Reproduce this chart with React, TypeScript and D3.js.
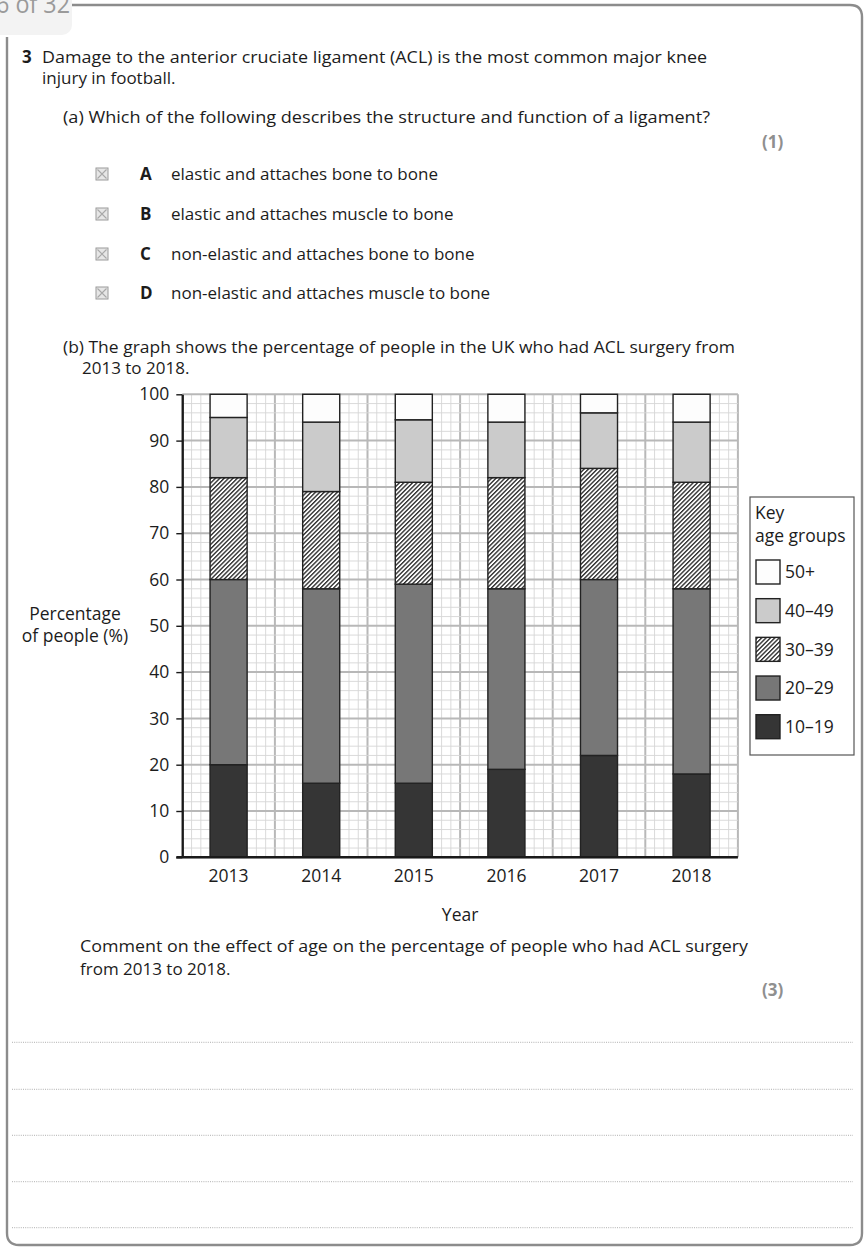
import React, { useRef, useEffect } from 'react'
import * as d3 from 'd3'

// chart data (percent of people per age group, per year)
const years = ['2013', '2014', '2015', '2016', '2017', '2018']
const ageGroups = ['10–19', '20–29', '30–39', '40–49', '50+']
const pct10to19 = [20, 16, 16, 19, 22, 18]
const pct20to29 = [40, 42, 43, 39, 38, 40]
const pct30to39 = [22, 21, 22, 24, 24, 23]
const pct40to49 = [13, 15, 13.5, 12, 12, 13]
const pct50plus = [5, 6, 5.5, 6, 4, 6]
const yTicks = [0, 10, 20, 30, 40, 50, 60, 70, 80, 90, 100]

const options = [
  { letter: 'A', text: 'elastic and attaches bone to bone' },
  { letter: 'B', text: 'elastic and attaches muscle to bone' },
  { letter: 'C', text: 'non-elastic and attaches bone to bone' },
  { letter: 'D', text: 'non-elastic and attaches muscle to bone' }
]

const FONT = '"Open Sans", "Noto Sans", sans-serif'
const TEXT = '#1c1c1c'
const FS = 17

const fills: Record<string, string> = {
  '10–19': '#353535',
  '20–29': '#777777',
  '30–39': 'url(#hatch)',
  '40–49': '#cbcbcb',
  '50+': '#fdfdfd'
}

const Chart = () => {
  const gRef = useRef<SVGGElement>(null)

  useEffect(() => {
    if (!gRef.current) return
    const g = d3.select(gRef.current)
    g.selectAll('*').remove()

    const left = 182.3
    const right = 737.9
    const top = 394.3
    const bottom = 857.3

    const y = d3.scaleLinear().domain([0, 100]).range([bottom, top])
    const x = d3.scaleBand<string>().domain(years).range([left, right])
      .paddingInner(0.6).paddingOuter(0.3)
    // graph paper: 60 small squares across, 50 up
    const gx = d3.scaleLinear().domain([0, 60]).range([left, right])
    const gy = d3.scaleLinear().domain([0, 50]).range([bottom, top])

    const grid = g.append('g')
    d3.range(0, 61).forEach(i => {
      const major = i % 5 === 0
      grid.append('line')
        .attr('x1', gx(i)).attr('x2', gx(i))
        .attr('y1', top).attr('y2', bottom)
        .attr('stroke', major ? '#b8b8b8' : '#d6d6d6')
        .attr('stroke-width', major ? 2 : 0.9)
    })
    d3.range(0, 51).forEach(i => {
      const major = i % 5 === 0
      grid.append('line')
        .attr('x1', left).attr('x2', right)
        .attr('y1', gy(i)).attr('y2', gy(i))
        .attr('stroke', major ? '#b8b8b8' : '#d6d6d6')
        .attr('stroke-width', major ? 2 : 0.9)
    })

    const table = years.map((yr, i) => ({
      year: yr,
      '10–19': pct10to19[i],
      '20–29': pct20to29[i],
      '30–39': pct30to39[i],
      '40–49': pct40to49[i],
      '50+': pct50plus[i]
    }))
    const stacked = d3.stack<any>().keys(ageGroups)(table)

    stacked.forEach(layer => {
      g.append('g')
        .selectAll('rect')
        .data(layer)
        .join('rect')
        .attr('x', d => x(d.data.year)!)
        .attr('width', x.bandwidth())
        .attr('y', d => y(d[1]))
        .attr('height', d => y(d[0]) - y(d[1]))
        .attr('fill', fills[layer.key])
        .attr('stroke', '#222')
        .attr('stroke-width', 1.4)
    })

    // y axis
    const yAxis = g.append('g')
      .attr('transform', `translate(${left},0)`)
      .call(d3.axisLeft(y).tickValues(yTicks).tickSize(6).tickSizeOuter(0).tickPadding(7))
    yAxis.select('.domain').attr('stroke', '#1a1a1a').attr('stroke-width', 2.2)
    yAxis.selectAll('.tick line').attr('stroke', '#1a1a1a').attr('stroke-width', 1.4)
    yAxis.selectAll('.tick text')
      .attr('font-family', FONT).attr('font-size', 17.5).attr('fill', TEXT)

    // x axis
    const xAxis = g.append('g')
      .attr('transform', `translate(0,${bottom})`)
      .call(d3.axisBottom(x).tickSize(0).tickSizeOuter(0).tickPadding(12))
    xAxis.select('.domain').attr('stroke', '#1a1a1a').attr('stroke-width', 2.4)
      .attr('d', `M${left - 6},0H${right}`)
    xAxis.selectAll('.tick text')
      .attr('font-family', FONT).attr('font-size', 17.5).attr('fill', TEXT)

    g.append('text')
      .attr('x', x('2015')! + x.bandwidth() + (x.step() - x.bandwidth()) / 2)
      .attr('y', 921)
      .attr('text-anchor', 'middle')
      .attr('font-family', FONT).attr('font-size', 17.5).attr('fill', TEXT)
      .text('Year')

    const yLab = g.append('text')
      .attr('text-anchor', 'middle')
      .attr('font-family', FONT).attr('font-size', 17.5).attr('fill', TEXT)
    yLab.append('tspan').attr('x', 75).attr('y', 620).text('Percentage')
    yLab.append('tspan').attr('x', 75).attr('y', 642).text('of people (%)')

    // key
    const key = g.append('g')
    key.append('rect')
      .attr('x', 750).attr('y', 497).attr('width', 104).attr('height', 258)
      .attr('fill', '#fff').attr('stroke', '#555').attr('stroke-width', 1.2)
    key.append('text').attr('x', 755).attr('y', 519)
      .attr('font-family', FONT).attr('font-size', 17.5).attr('fill', TEXT).text('Key')
    key.append('text').attr('x', 755).attr('y', 542)
      .attr('font-family', FONT).attr('font-size', 17.5).attr('fill', TEXT).text('age groups')

    const keyOrder = [...ageGroups].reverse()
    const ky = d3.scalePoint<string>().domain(keyOrder).range([572, 726.7])
    keyOrder.forEach(k => {
      key.append('rect')
        .attr('x', 756).attr('y', ky(k)! - 12).attr('width', 24).attr('height', 24)
        .attr('fill', fills[k]).attr('stroke', '#222').attr('stroke-width', 1.4)
      key.append('text')
        .attr('x', 785).attr('y', ky(k)!).attr('dy', '0.36em')
        .attr('font-family', FONT).attr('font-size', 17.5).attr('fill', TEXT).text(k)
    })
  }, [])

  return <g ref={gRef} />
}

const CheckBox = ({ x, y }: { x: number; y: number }) => (
  <g>
    <rect x={x} y={y} width={12} height={12} fill="#e6e6e6" stroke="#9a9a9a" strokeWidth={1} />
    <path d={`M${x + 1.5},${y + 1.5}L${x + 10.5},${y + 10.5}M${x + 10.5},${y + 1.5}L${x + 1.5},${y + 10.5}`}
      stroke="#a8a8a8" strokeWidth={1.1} />
  </g>
)

export default function App() {
  const answerLines = [1042.3, 1089.3, 1135.3, 1181.7, 1227.7]
  const optionY = [180, 220, 260, 299]

  return (
    <svg width={867} height={1257} style={{ position: 'absolute', left: 0, top: 0, background: '#fff' }}
      fontFamily={FONT}>
      <defs>
        <pattern id="hatch" patternUnits="userSpaceOnUse" width={3.1} height={3.1}
          patternTransform="rotate(45)">
          <rect width={3.1} height={3.1} fill="#fff" />
          <line x1={0.7} y1={0} x2={0.7} y2={3.1} stroke="#222" strokeWidth={1.3} />
        </pattern>
      </defs>

      {/* page frame */}
      <rect x={-10} y={-10} width={82} height={45} rx={10} fill="#f3f3f3" />
      <text x={-4} y={13} fontSize={25} fill="#9a9a9a" textLength={74} lengthAdjust="spacingAndGlyphs">6 of 32</text>
      <path d="M72,5H850Q862,5 862,17V1233Q862,1245 850,1245H19Q7,1245 7,1233V37"
        fill="none" stroke="#8c8c8c" strokeWidth={2.4} />

      <text x={22} y={63} fontSize={FS} fontWeight="bold" fill={TEXT}>3</text>
      <text x={42} y={63} fontSize={FS} fill={TEXT} textLength={665} lengthAdjust="spacingAndGlyphs">
        Damage to the anterior cruciate ligament (ACL) is the most common major knee
      </text>
      <text x={42} y={84} fontSize={FS} fill={TEXT}>injury in football.</text>

      <text x={63} y={123} fontSize={FS} fill={TEXT} textLength={647} lengthAdjust="spacingAndGlyphs">
        (a) Which of the following describes the structure and function of a ligament?
      </text>
      <text x={762} y={148} fontSize={FS} fontWeight="bold" fill="#8f8f8f">(1)</text>

      {options.map((o, i) => (
        <g key={o.letter}>
          <CheckBox x={96} y={optionY[i] - 12} />
          <text x={140} y={optionY[i]} fontSize={FS} fontWeight="bold" fill={TEXT}>{o.letter}</text>
          <text x={171} y={optionY[i]} fontSize={FS} fill={TEXT}>{o.text}</text>
        </g>
      ))}

      <text x={63} y={353} fontSize={FS} fill={TEXT} textLength={672} lengthAdjust="spacingAndGlyphs">
        (b) The graph shows the percentage of people in the UK who had ACL surgery from
      </text>
      <text x={82} y={374} fontSize={FS} fill={TEXT}>2013 to 2018.</text>

      <Chart />

      <text x={80} y={952} fontSize={FS} fill={TEXT} textLength={668} lengthAdjust="spacingAndGlyphs">
        Comment on the effect of age on the percentage of people who had ACL surgery
      </text>
      <text x={80} y={975} fontSize={FS} fill={TEXT}>from 2013 to 2018.</text>
      <text x={762} y={996} fontSize={FS} fontWeight="bold" fill="#8f8f8f">(3)</text>

      {answerLines.map(ly => (
        <line key={ly} x1={12} x2={853} y1={ly} y2={ly} stroke="#9a9a9a" strokeWidth={0.8}
          strokeDasharray="1 1.2" />
      ))}
    </svg>
  )
}
